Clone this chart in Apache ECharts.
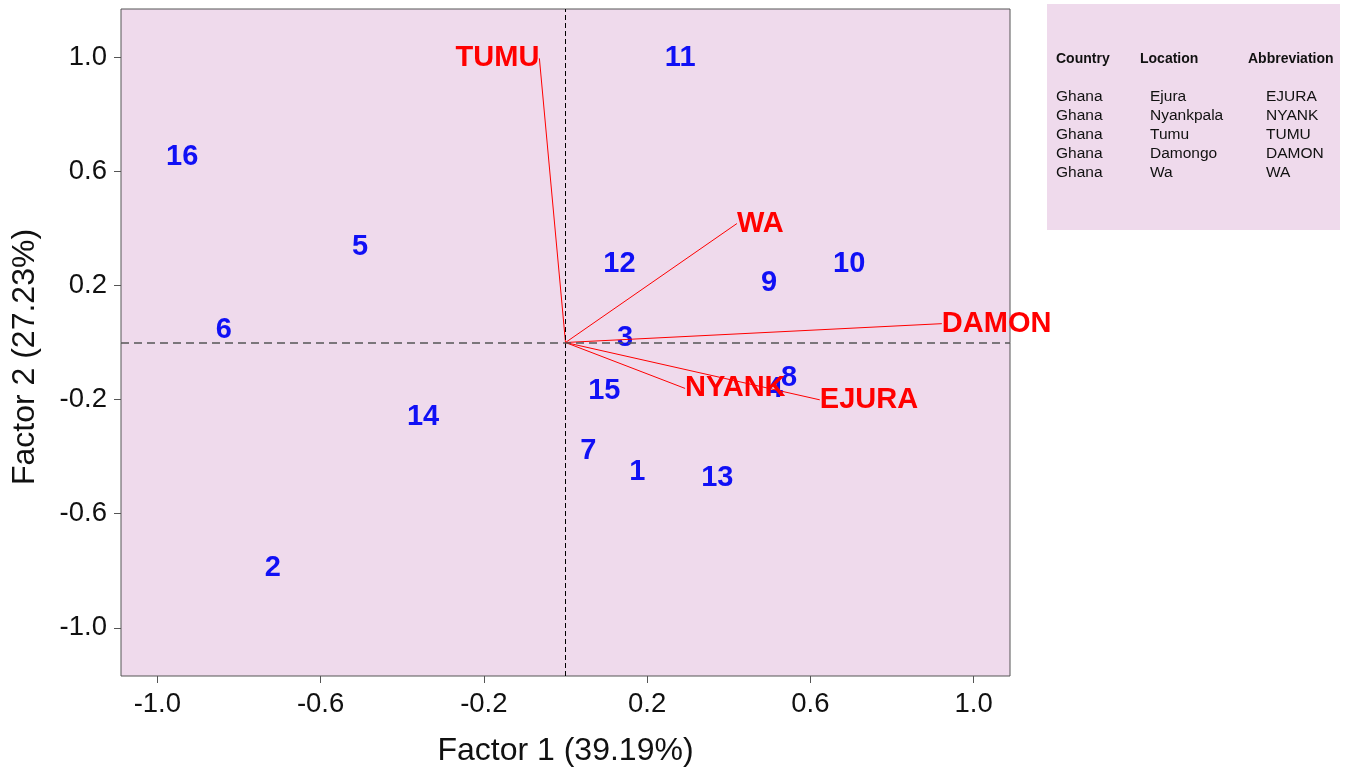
<!DOCTYPE html>
<html>
<head>
<meta charset="utf-8">
<script src="https://cdn.jsdelivr.net/npm/echarts@6/dist/echarts.min.js"></script>
<style>
  html, body { margin: 0; padding: 0; background: #fff; }
  #chart { width: 1351px; height: 772px; }
</style>
</head>
<body>
<div id="chart"></div>
<script>
'use strict';
// sample scores (factor 1, factor 2)
var pointNames = ['1', '2', '3', '4', '5', '6', '7', '8', '9', '10', '11', '12', '13', '14', '15', '16'];
var pointF1 = [0.176, -0.717, 0.146, 0.513, -0.503, -0.837, 0.056, 0.548, 0.499, 0.695, 0.281, 0.132, 0.372, -0.349, 0.095, -0.939];
var pointF2 = [-0.454, -0.789, 0.015, -0.163, 0.333, 0.043, -0.380, -0.125, 0.207, 0.274, 0.997, 0.274, -0.474, -0.261, -0.170, 0.651];

// environment vectors
var envNames = ['EJURA', 'NYANK', 'TUMU', 'DAMON', 'WA'];
var envF1 = [0.623, 0.293, -0.064, 0.922, 0.420];
var envF2 = [-0.201, -0.161, 0.996, 0.066, 0.417];

var tickValues = [-1.0, -0.6, -0.2, 0.2, 0.6, 1.0];

// side table
var tableHeader = ['Country', 'Location', 'Abbreviation'];
var tableCountry = ['Ghana', 'Ghana', 'Ghana', 'Ghana', 'Ghana'];
var tableLocation = ['Ejura', 'Nyankpala', 'Tumu', 'Damongo', 'Wa'];
var tableAbbrev = ['EJURA', 'NYANK', 'TUMU', 'DAMON', 'WA'];

var FONT = 'Liberation Sans';
var PINK = '#EFDAEC';

var myChart = echarts.init(document.getElementById('chart'));

var pointData = pointNames.map(function (n, i) { return [pointF1[i], pointF2[i], n]; });
var envData = envNames.map(function (n, i) { return [envF1[i], envF2[i], n]; });

// table graphics
var graphics = [{
    type: 'rect',
    shape: { x: 1047, y: 4, width: 293, height: 226 },
    style: { fill: PINK },
    z: 0
}, {
    // y axis title, drawn by hand so it can sit a little low like the original
    type: 'text', x: 25, y: 357, rotation: Math.PI / 2,
    style: { text: 'Factor 2 (27.23%)', fontSize: 32, fontFamily: FONT, fill: '#111',
             align: 'center', verticalAlign: 'middle' }
}];
var headX = [1056, 1140, 1248];
tableHeader.forEach(function (h, i) {
    graphics.push({
        type: 'text', x: headX[i], y: 59,
        style: { text: h, fontSize: 14, fontWeight: 'bold', fontFamily: FONT, fill: '#111', verticalAlign: 'middle' }
    });
});
var rowY = [96.5, 115.5, 134.8, 154, 173.2];
tableCountry.forEach(function (c, i) {
    [[1056, c], [1150, tableLocation[i]], [1266, tableAbbrev[i]]].forEach(function (cell) {
        graphics.push({
            type: 'text', x: cell[0], y: rowY[i],
            style: { text: cell[1], fontSize: 15.5, fontFamily: FONT, fill: '#111', verticalAlign: 'middle' }
        });
    });
});

var axisCommon = {
    axisLine: { show: false, onZero: false },
    splitLine: { show: false },
    axisTick: { show: true, length: 7, customValues: tickValues, lineStyle: { color: '#555', width: 1 } },
    axisLabel: {
        customValues: tickValues,
        fontSize: 27.5, fontFamily: FONT, color: '#111',
        formatter: function (v) { return v.toFixed(1); }
    },
    nameLocation: 'middle',
    nameTextStyle: { fontSize: 32, fontFamily: FONT, color: '#111' }
};

var option = {
    animation: false,
    backgroundColor: '#fff',
    grid: {
        left: 121, top: 9, width: 889, height: 669,
        show: true, backgroundColor: PINK, borderColor: '#555', borderWidth: 1
    },
    graphic: graphics,
    xAxis: echarts.util.merge({
        type: 'value', min: -1.089, max: 1.089,
        name: 'Factor 1 (39.19%)', nameGap: 59,
        axisLabel: { margin: 14 }
    }, axisCommon),
    yAxis: echarts.util.merge({
        type: 'value', min: -1.169, max: 1.169,
        axisLabel: { margin: 14 }
    }, axisCommon),
    series: [{
        type: 'scatter',
        data: pointData,
        symbolSize: 1,
        itemStyle: { color: 'transparent', opacity: 1 },
        label: {
            show: true, position: 'inside',
            formatter: function (p) { return p.data[2]; },
            color: '#1010F5', fontSize: 29, fontWeight: 'bold', fontFamily: FONT
        },
        markLine: {
            silent: true, symbol: 'none', label: { show: false },
            data: [
                { xAxis: 0, lineStyle: { color: '#000', type: [5, 3], width: 1 } },
                { yAxis: 0, lineStyle: { color: '#555', type: [8, 5], width: 1.5 } }
            ]
        },
        z: 3
    }, {
        type: 'custom',
        data: envData,
        z: 4,
        renderItem: function (params, api) {
            var o = api.coord([0, 0]);
            var e = api.coord([api.value(0), api.value(1)]);
            var left = api.value(0) < 0;
            return {
                type: 'group',
                children: [{
                    type: 'line',
                    shape: { x1: o[0], y1: o[1], x2: e[0], y2: e[1] },
                    style: { stroke: '#FF0000', lineWidth: 1 }
                }, {
                    type: 'text',
                    x: e[0], y: e[1],
                    style: {
                        text: envNames[params.dataIndex],
                        fontSize: 29, fontWeight: 'bold', fontFamily: FONT,
                        fill: '#FF0000',
                        align: left ? 'right' : 'left',
                        verticalAlign: 'middle'
                    }
                }]
            };
        }
    }]
};

myChart.setOption(option);
</script>
</body>
</html>
